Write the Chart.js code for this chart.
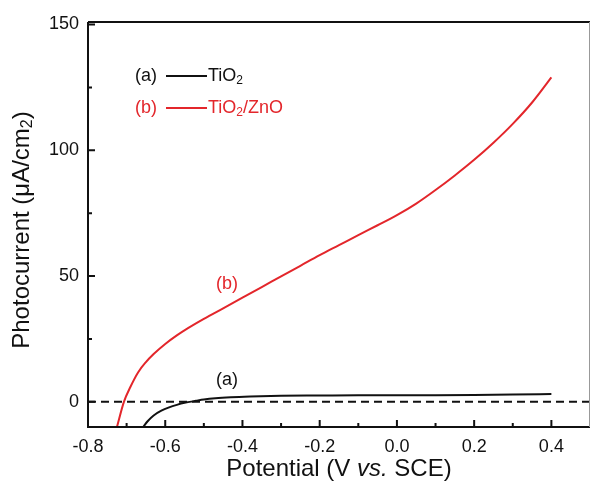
<!DOCTYPE html>
<html>
<head>
<meta charset="utf-8">
<script src="https://cdn.jsdelivr.net/npm/chart.js@4/dist/chart.umd.min.js"></script>
<style>
  html, body { margin: 0; padding: 0; background: #fff; }
  #myChart { display: block; }
</style>
</head>
<body>
<canvas id="myChart" width="591" height="493"></canvas>
<script>
'use strict';

// data
let potentialA = [-0.657, -0.645, -0.63, -0.61, -0.59, -0.57, -0.55, -0.52, -0.5, -0.47, -0.43, -0.38, -0.3, -0.2, -0.1, 0, 0.1, 0.2, 0.3, 0.4];
let currentA = [-10, -7.6, -5.4, -3.5, -2.2, -1.2, -0.4, 0.4, 0.9, 1.4, 1.8, 2.1, 2.4, 2.5, 2.6, 2.6, 2.65, 2.75, 2.9, 3.1];

let potentialB = [-0.725, -0.707, -0.69, -0.67, -0.65, -0.63, -0.6, -0.57, -0.54, -0.5, -0.45, -0.4, -0.35, -0.3, -0.25, -0.2, -0.15, -0.1, -0.05, 0, 0.05, 0.1, 0.15, 0.2, 0.25, 0.3, 0.35, 0.4];
let currentB = [-10, 0, 6, 11.8, 15.8, 19, 23, 26.4, 29.4, 33, 37.2, 41.4, 45.6, 49.9, 54.1, 58.3, 62.3, 66.3, 70.2, 74.2, 78.8, 84.2, 90, 96.2, 103, 110.5, 119, 129];

let baselineX = [-0.8, 0.5];
let baselineY = [0, 0];

let xTicks = [-0.8, -0.6, -0.4, -0.2, 0, 0.2, 0.4];
let xMinorTicks = [-0.7, -0.5, -0.3, -0.1, 0.1, 0.3];
let yTicks = [0, 50, 100, 150];
let yMinorTicks = [25, 75, 125];

let red = '#e3262b';
let fontName = '"Liberation Sans", Arial, sans-serif';
const ctx = document.getElementById('myChart');

// helper functions
function toPoints(xs, ys){
  let points = [];
  for (let i in xs){
    points.push({x: xs[i], y: ys[i]});
  }
  return points;
}

function font(size, style = ''){
  return `${style} ${size}px ${fontName}`;
}

// draws pieces of text one after another (for subscripts and italics)
function drawParts(c, parts, x, y, align){
  let total = 0;
  for (let p of parts){
    c.font = p.font;
    total += c.measureText(p.text).width;
  }
  let start = x;
  if (align === 'center') start = x - total / 2;
  if (align === 'right') start = x - total;
  c.textAlign = 'left';
  c.textBaseline = 'middle';
  for (let p of parts){
    c.font = p.font;
    c.fillText(p.text, start, y + (p.dy || 0));
    start += c.measureText(p.text).width;
  }
}

let overlayPlugin = {
  id: 'overlay',
  afterDraw(chart){
    let c = chart.ctx;
    let area = chart.chartArea;
    let xs = chart.scales.x;
    let ys = chart.scales.y;
    c.save();

    // frame
    c.strokeStyle = '#111';
    c.lineWidth = 2;
    c.beginPath();
    c.moveTo(area.left, area.top);
    c.lineTo(area.left, area.bottom);
    c.lineTo(area.right, area.bottom);
    c.moveTo(area.left, area.top);
    c.lineTo(area.right, area.top);
    c.stroke();
    c.strokeStyle = '#999';
    c.lineWidth = 1;
    c.beginPath();
    c.moveTo(area.right - 0.5, area.top);
    c.lineTo(area.right - 0.5, area.bottom);
    c.stroke();

    // inward ticks
    c.strokeStyle = '#111';
    c.lineWidth = 2;
    c.beginPath();
    for (let v of xTicks){
      let px = xs.getPixelForValue(v);
      c.moveTo(px, area.bottom);
      c.lineTo(px, area.bottom - 7);
    }
    for (let v of xMinorTicks){
      let px = xs.getPixelForValue(v);
      c.moveTo(px, area.bottom);
      c.lineTo(px, area.bottom - 4);
    }
    for (let v of yTicks){
      let py = ys.getPixelForValue(v);
      c.moveTo(area.left, py);
      c.lineTo(area.left + 7, py);
    }
    for (let v of yMinorTicks){
      let py = ys.getPixelForValue(v);
      c.moveTo(area.left, py);
      c.lineTo(area.left + 4, py);
    }
    c.stroke();

    // axis titles
    c.fillStyle = '#111';
    drawParts(c, [
      {text: 'Potential (V ', font: font(24)},
      {text: 'vs.', font: font(24, 'italic')},
      {text: ' SCE)', font: font(24)}
    ], (area.left + area.right) / 2, 469, 'center');

    c.save();
    c.translate(22, 230);
    c.rotate(-Math.PI / 2);
    drawParts(c, [
      {text: 'Photocurrent (\u03bcA/cm', font: font(24)},
      {text: '2', font: font(16), dy: 6},
      {text: ')', font: font(24)}
    ], 0, 0, 'center');
    c.restore();

    // legend
    c.fillStyle = '#111';
    drawParts(c, [{text: '(a)', font: font(18)}], 135, 76, 'left');
    c.strokeStyle = '#111';
    c.beginPath();
    c.moveTo(166, 76);
    c.lineTo(207, 76);
    c.stroke();
    drawParts(c, [
      {text: 'TiO', font: font(18)},
      {text: '2', font: font(12), dy: 5}
    ], 208, 76, 'left');

    c.fillStyle = red;
    drawParts(c, [{text: '(b)', font: font(18)}], 135, 108, 'left');
    c.strokeStyle = red;
    c.beginPath();
    c.moveTo(166, 108);
    c.lineTo(207, 108);
    c.stroke();
    drawParts(c, [
      {text: 'TiO', font: font(18)},
      {text: '2', font: font(12), dy: 5},
      {text: '/ZnO', font: font(18)}
    ], 208, 108, 'left');

    // curve labels
    c.fillStyle = red;
    drawParts(c, [{text: '(b)', font: font(18)}], xs.getPixelForValue(-0.44), ys.getPixelForValue(47), 'center');
    c.fillStyle = '#111';
    drawParts(c, [{text: '(a)', font: font(18)}], xs.getPixelForValue(-0.44), ys.getPixelForValue(8.7), 'center');

    c.restore();
  }
};

function renderChart(){
  let chartObj = {
    type: 'scatter',
    data: {
      datasets: [
        {
          label: 'zero',
          data: toPoints(baselineX, baselineY),
          showLine: true,
          borderColor: '#111',
          borderWidth: 2,
          borderDash: [8, 5],
          pointRadius: 0
        },
        {
          label: 'TiO2',
          data: toPoints(potentialA, currentA),
          showLine: true,
          borderColor: '#111',
          borderWidth: 2,
          cubicInterpolationMode: 'monotone',
          pointRadius: 0
        },
        {
          label: 'TiO2/ZnO',
          data: toPoints(potentialB, currentB),
          showLine: true,
          borderColor: red,
          borderWidth: 2,
          cubicInterpolationMode: 'monotone',
          pointRadius: 0
        }
      ]
    },
    options: {
      responsive: false,
      animation: false,
      devicePixelRatio: 1,
      layout: {
        padding: {top: 22, right: 1, left: 0, bottom: 0}
      },
      plugins: {
        legend: {display: false},
        tooltip: {enabled: false},
        title: {display: false}
      },
      scales: {
        x: {
          type: 'linear',
          min: -0.8,
          max: 0.5,
          grid: {display: false, drawTicks: false},
          border: {display: false},
          afterBuildTicks: (axis) => {
            axis.ticks = xTicks.map(v => ({value: v}));
          },
          afterFit: (axis) => {
            axis.height = 66;
          },
          ticks: {
            padding: 9,
            color: '#111',
            maxRotation: 0,
            font: {family: fontName, size: 18},
            callback: (value) => Number(value).toFixed(1)
          }
        },
        y: {
          type: 'linear',
          min: -10,
          max: 151,
          grid: {display: false, drawTicks: false},
          border: {display: false},
          afterBuildTicks: (axis) => {
            axis.ticks = yTicks.map(v => ({value: v}));
          },
          afterFit: (axis) => {
            axis.width = 88;
          },
          ticks: {
            padding: 9,
            color: '#111',
            font: {family: fontName, size: 18}
          }
        }
      }
    },
    plugins: [overlayPlugin]
  };
  new Chart(ctx, chartObj);
}

renderChart();
</script>
</body>
</html>
